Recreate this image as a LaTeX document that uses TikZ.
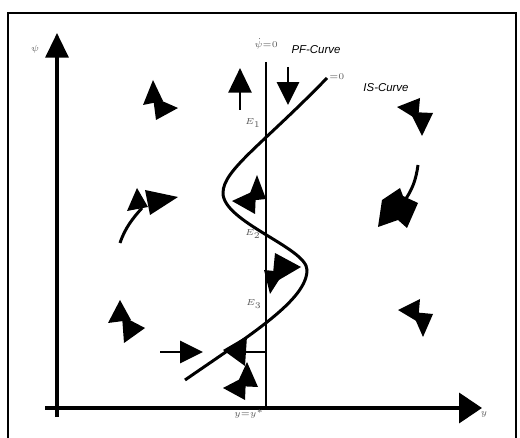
\documentclass[tikz,border=0pt]{standalone}
\usepackage{fontspec}
\usetikzlibrary{arrows.meta}
\newfontfamily\curvefont{Liberation Sans}
\tikzset{
  heavy/.style={line width=1.7pt},
  axisline/.style={line width=2pt, -{Triangle[length=14pt,width=13pt]}},
  flowarrow/.style={line width=1.7pt, -{Triangle[length=13pt,width=12.5pt]}},
  wedge/.style={fill=black},
  tinylabel/.style={font=\fontsize{4}{5}\selectfont, inner sep=0pt, text=black!65},
  curvelabel/.style={font=\curvefont\itshape\fontsize{6.5}{8}\selectfont, inner sep=0pt}
}
\begin{document}
\begin{tikzpicture}[x=0.02cm, y=-0.02cm]
    \useasboundingbox (0,0) rectangle (520,438);
    \draw[line width=1.5pt] (8,438) -- (8,13) -- (516,13) -- (516,438);
    \draw[axisline] (57,417) -- (57,33);
    \draw[axisline, -{Triangle[length=13pt,width=17pt]}] (45,408) -- (482,408);
    \draw[heavy] (266,62) -- (266,408);
    \draw[heavy] (327,78) .. controls (262,145) and (223,170) .. (223,193)
                          .. controls (223,222) and (307,248) .. (307,270)
                          .. controls (307,300) and (250,335) .. (185,380);
    \node[tinylabel] (psilabel) at (35,49) {$\psi$};
    \node[tinylabel] (ylabel) at (484,414) {$y$};
    \node[tinylabel] (psidot) at (266,44) {$\dot\psi{=}0$};
    \node[curvelabel] (pf) at (316,50) {PF-Curve};
    \node[curvelabel] (is) at (386,88) {IS-Curve};
    \node[tinylabel, anchor=west] (ydot) at (329,77) {${=}0$};
    \node[tinylabel] (e1) at (253,123) {$E_1$};
    \node[tinylabel] (e2) at (253,234) {$E_2$};
    \node[tinylabel] (e3) at (254,304) {$E_3$};
    \node[tinylabel] (ystar) at (249,414) {$y{=}y^*$};
    % arrows beside the locus
    \draw[flowarrow, -{Triangle[length=14pt,width=13pt]}] (240,110) -- (240,68);
    \draw[flowarrow] (288,67) -- (288,105);
    \draw[flowarrow] (160,352) -- (203,352);
    \draw[heavy] (245,352) -- (266,352);
    % paired heads
    \fill[wedge] (153,80) -- (143,105) -- (163,101) -- cycle;
    \fill[wedge] (178,108) -- (153,97) -- (156,120) -- cycle;
    \draw[heavy] (120,243) .. controls (125,228) and (133,218) .. (142,208);
    \fill[wedge] (137,188) -- (127,211) -- (148,207) -- cycle;
    \fill[wedge] (178,197) -- (145,190) -- (150,215) -- cycle;
    \fill[wedge] (397,107) -- (420,98) -- (418,120) -- cycle;
    \fill[wedge] (422,136) -- (410,112) -- (433,113) -- cycle;
    \draw[heavy] (418,165) .. controls (416,180) and (412,190) .. (405,200);
    \fill[wedge] (382,200) -- (400,188) -- (403,196) -- (418,203) -- (407,228) -- (398,220) -- (378,227) -- cycle;
    \fill[wedge] (120,300) -- (108,323) -- (131,320) -- cycle;
    \fill[wedge] (145,328) -- (122,316) -- (124,343) -- cycle;
    \fill[wedge] (257,175) -- (247,201) -- (266,199) -- cycle;
    \fill[wedge] (232,201) -- (256,190) -- (255,214) -- cycle;
    \fill[wedge] (301,267) -- (275,253) -- (272,284) -- cycle;
    \fill[wedge] (270,294) -- (264,270) -- (284,272) -- cycle;
    \fill[wedge] (223,350) -- (247,336) -- (245,366) -- cycle;
    \fill[wedge] (247,362) -- (236,386) -- (258,387) -- cycle;
    \fill[wedge] (223,388) -- (246,376) -- (245,400) -- cycle;
    \fill[wedge] (398,310) -- (420,299) -- (418,322) -- cycle;
    \fill[wedge] (423,337) -- (412,312) -- (433,314) -- cycle;
  \end{tikzpicture}
\end{document}
